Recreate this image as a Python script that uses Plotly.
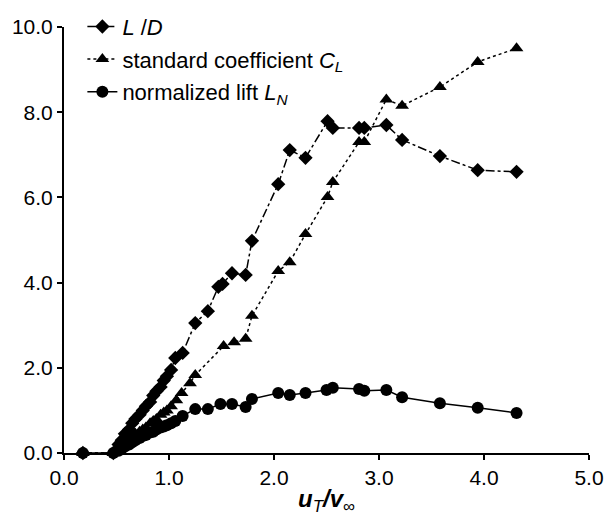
import plotly.graph_objects as go

# u_T / v_inf values and series
ld_x = [0.18, 0.47, 0.52, 0.55, 0.58, 0.62, 0.65, 0.68, 0.72, 0.75, 0.78, 0.82, 0.85, 0.88,
        0.92, 0.95, 0.98, 1.02, 1.06, 1.13, 1.25, 1.37, 1.47, 1.51, 1.60, 1.73, 1.79,
        2.04, 2.15, 2.30, 2.51, 2.56, 2.81, 2.86, 3.07, 3.22, 3.58, 3.94, 4.31]
ld_y = [0.0, 0.0, 0.2, 0.3, 0.45, 0.55, 0.7, 0.8, 0.9, 1.0, 1.1, 1.2, 1.35, 1.45,
        1.55, 1.7, 1.8, 1.95, 2.23, 2.35, 3.05, 3.33, 3.90, 3.97, 4.22, 4.18, 4.98,
        6.31, 7.11, 6.93, 7.79, 7.63, 7.63, 7.63, 7.70, 7.35, 6.97, 6.64, 6.60]

cl_x = [0.18, 0.47, 0.52, 0.55, 0.58, 0.62, 0.65, 0.68, 0.72, 0.75, 0.78, 0.82, 0.85, 0.88,
        0.92, 0.95, 0.98, 1.02, 1.07, 1.12, 1.20, 1.25, 1.52, 1.62, 1.73, 1.79,
        2.04, 2.15, 2.30, 2.51, 2.56, 2.81, 2.86, 3.07, 3.22, 3.58, 3.94, 4.31]
cl_y = [0.0, 0.0, 0.1, 0.15, 0.25, 0.3, 0.35, 0.45, 0.5, 0.55, 0.6, 0.7, 0.75, 0.8,
        0.9, 0.95, 1.0, 1.1, 1.24, 1.41, 1.64, 1.83, 2.51, 2.60, 2.68, 3.22,
        4.27, 4.48, 5.14, 6.01, 6.36, 7.30, 7.30, 8.30, 8.15, 8.59, 9.18, 9.50]

ln_x = [0.18, 0.47, 0.52, 0.55, 0.58, 0.62, 0.65, 0.68, 0.72, 0.75, 0.78, 0.82, 0.85, 0.88,
        0.92, 0.95, 0.98, 1.02, 1.06, 1.13, 1.25, 1.37, 1.49, 1.60, 1.73, 1.79,
        2.04, 2.15, 2.30, 2.50, 2.56, 2.81, 2.86, 3.07, 3.22, 3.58, 3.94, 4.31]
ln_y = [0.0, 0.0, 0.05, 0.1, 0.15, 0.2, 0.25, 0.3, 0.35, 0.4, 0.42, 0.48, 0.5, 0.55,
        0.6, 0.62, 0.65, 0.7, 0.75, 0.87, 1.03, 1.03, 1.15, 1.15, 1.08, 1.27,
        1.41, 1.36, 1.41, 1.48, 1.53, 1.50, 1.46, 1.48, 1.31, 1.17, 1.06, 0.94]

x_ticks = [0.0, 1.0, 2.0, 3.0, 4.0, 5.0]
y_ticks = [0.0, 2.0, 4.0, 6.0, 8.0, 10.0]

FONT = "Liberation Sans, Arial, sans-serif"

fig = go.Figure()
fig.add_trace(go.Scatter(
    x=ld_x, y=ld_y, mode="lines+markers", name="<i>L</i> /<i>D</i>", legendgroup="a",
    line=dict(color="black", width=1.5, dash="dashdot"),
    marker=dict(symbol="diamond", size=11, color="black"), cliponaxis=False))
fig.add_trace(go.Scatter(
    x=cl_x, y=cl_y, mode="lines+markers", legendgroup="b",
    name="standard coefficient <i>C</i><sub><i>L</i></sub>",
    line=dict(color="black", width=1.5, dash="dot"),
    marker=dict(symbol="triangle-up", size=12, color="black"), cliponaxis=False))
fig.add_trace(go.Scatter(
    x=ln_x, y=ln_y, mode="lines+markers", legendgroup="c",
    name="normalized lift <i>L</i><sub><i>N</i></sub>",
    line=dict(color="black", width=1.5),
    marker=dict(symbol="circle", size=12, color="black"), cliponaxis=False))

axis_common = dict(
    showline=True, linecolor="black", linewidth=2, ticks="outside", ticklen=5,
    tickwidth=2, tickcolor="black", showgrid=False, zeroline=False, automargin=False,
    tickfont=dict(family=FONT, size=21, color="black"))

fig.update_layout(
    width=607, height=514,
    margin=dict(l=56, r=26, t=19, b=69, autoexpand=False),
    paper_bgcolor="white", plot_bgcolor="white",
    font=dict(family=FONT, size=18, color="black"),
    showlegend=True,
    legend=dict(x=0.035, y=1.05, xanchor="left", yanchor="top",
                bgcolor="rgba(0,0,0,0)", font=dict(family=FONT, size=22, color="black"),
                tracegroupgap=1),
    xaxis=dict(range=[0, 5], tickvals=x_ticks, ticktext=[f"{v:.1f}" for v in x_ticks],
               title=dict(text="<b><i>u</i></b><sub><i>T</i></sub><b><i>/v</i></b><sub>∞</sub>",
                          font=dict(family=FONT, size=24, color="black"), standoff=2),
               **axis_common),
    yaxis=dict(range=[0, 10], tickvals=y_ticks, ticktext=[f"{v:.1f}" for v in y_ticks],
               **axis_common),
)

fig.write_html("out.html")
